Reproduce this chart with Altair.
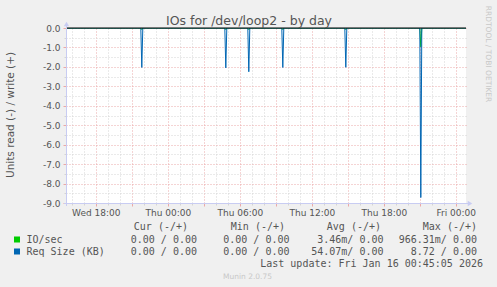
import altair as alt
import pandas as pd

# ---------------- data ----------------
title_text = "IOs for /dev/loop2 - by day"
y_title = "Units read (-) / write (+)"
side_text = "RRDTOOL / TOBI OETIKER"
footer_text = "Munin 2.0.75"
last_update = "Last update: Fri Jan 16 00:45:05 2026"

window = ["2026-01-14 15:31", "2026-01-16 00:51"]
ref_midnight = "2026-01-15 00:00"
step_minutes = 5

spike_times = ["2026-01-14 21:50", "2026-01-15 04:50", "2026-01-15 06:45",
               "2026-01-15 09:35", "2026-01-15 14:50", "2026-01-15 21:05"]
req_size_read = [-2.03, -2.05, -2.25, -2.03, -2.02, -8.72]
io_sec_read = [-0.08, -0.08, -0.08, -0.08, -0.08, -0.97]

x_tick_hours = [-6, 0, 6, 12, 18, 24]
x_tick_labels = ["Wed 18:00", "Thu 00:00", "Thu 06:00", "Thu 12:00", "Thu 18:00", "Fri 00:00"]

legend_series = ["IO/sec", "Req Size (KB)"]
legend_colors = ["#00cc00", "#0066b3"]
legend_headers = ["Cur (-/+)", "Min (-/+)", "Avg (-/+)", "Max (-/+)"]
legend_cur = ["0.00 / 0.00", "0.00 / 0.00"]
legend_min = ["0.00 / 0.00", "0.00 / 0.00"]
legend_avg = ["3.46m/ 0.00", "54.07m/ 0.00"]
legend_max = ["966.31m/ 0.00", "8.72 / 0.00"]

# ---------------- layout ----------------
PAD_L, PAD_T, PAD_R, PAD_B = 66, 28, 31, 84
W, H = 400, 175
FONT = "DejaVu Sans"
MONO = "DejaVu Sans Mono"
TXT = "#555555"
AXIS_C = "#c8ccf2"
MINOR_C = "#d4d4d4"
MAJOR_C = "#eba8a8"


def px(x):
    return x - PAD_L


def py(y):
    return y - PAD_T


ref = pd.Timestamp(ref_midnight)


def hours(ts):
    return (pd.Timestamp(ts) - ref) / pd.Timedelta(hours=1)


x0, x1 = hours(window[0]), hours(window[1])
step_h = step_minutes / 60.0


def series(values):
    rows = [(x0, 0.0)]
    for t, v in zip(spike_times, values):
        h = hours(t)
        rows += [(h - step_h, 0.0), (h, v), (h + step_h, 0.0)]
    rows.append((x1, 0.0))
    return pd.DataFrame(rows, columns=["h", "v"])


xs = alt.Scale(domain=[x0, x1], nice=False, zero=False)
ys = alt.Scale(domain=[-9, 0], nice=False, zero=False)

x_minor = [h for h in range(-8, 25) if h % 3 != 0]
x_major = list(range(-6, 25, 3))
y_minor = [i + 0.5 for i in range(-9, 0)]
y_major = list(range(-9, 1))

grid_dash = [1, 2]

green = alt.Chart(series(io_sec_read)).mark_line(
    color=legend_colors[0], strokeWidth=1, clip=True
).encode(
    x=alt.X("h:Q", scale=xs, axis=alt.Axis(
        orient="bottom", values=x_minor, grid=True, gridColor=MINOR_C, gridDash=grid_dash,
        labels=False, ticks=True, tickColor=MINOR_C, tickSize=2, domain=False, title=None)),
    y=alt.Y("v:Q", scale=ys, axis=alt.Axis(
        orient="left", values=y_minor, grid=True, gridColor=MINOR_C, gridDash=grid_dash,
        labels=False, ticks=True, tickColor=MINOR_C, tickSize=2, domain=False, title=None)),
)

blue = alt.Chart(series(req_size_read)).mark_line(
    color=legend_colors[1], strokeWidth=1, clip=True
).encode(
    x=alt.X("h:Q", scale=xs, axis=alt.Axis(
        orient="bottom", values=x_major, grid=True, gridColor=MAJOR_C, gridDash=grid_dash,
        labels=False, ticks=True, tickColor=MAJOR_C, tickSize=3, domain=False, title=None)),
    y=alt.Y("v:Q", scale=ys, axis=alt.Axis(
        orient="left", values=y_major, grid=True, gridColor=MAJOR_C, gridDash=grid_dash,
        labels=False, ticks=True, tickColor=MAJOR_C, tickSize=3, domain=False, title=None)),
)

x_label_expr = "{}[indexof({}, datum.value)]".format(
    "[" + ",".join("'%s'" % s for s in x_tick_labels) + "]",
    "[" + ",".join(str(v) for v in x_tick_hours) + "]")

zero_df = pd.DataFrame({"h": [x0, x1], "v": [0.0, 0.0]})
zero = alt.Chart(zero_df).mark_line(color="#000000", strokeWidth=1).encode(
    x=alt.X("h:Q", scale=xs, axis=alt.Axis(
        orient="bottom", values=x_tick_hours, labelExpr=x_label_expr, grid=False, ticks=False,
        domain=False, labelFont=FONT, labelFontSize=9, labelColor=TXT, labelPadding=5,
        title=None)),
    y=alt.Y("v:Q", scale=ys, axis=alt.Axis(
        orient="left", values=y_major,
        labelExpr="(datum.value < 0 ? '-' : '') + format(abs(datum.value), '.1f')",
        grid=False, ticks=False, domain=False, labelFont=FONT, labelFontSize=9,
        labelColor=TXT, labelPadding=6, title=None)),
)

deco_df = pd.DataFrame({"k": [0]})
y_axis_line = alt.Chart(deco_df).mark_rule(color=AXIS_C, strokeWidth=1).encode(
    x=alt.value(0.5), y=alt.value(-5), y2=alt.value(H + 3))
x_axis_line = alt.Chart(deco_df).mark_rule(color=AXIS_C, strokeWidth=1).encode(
    x=alt.value(-2), x2=alt.value(W + 4), y=alt.value(H + 0.5))
y_arrow = alt.Chart(deco_df).mark_point(shape="triangle-up", filled=True, color=AXIS_C,
                                        size=28, opacity=1).encode(
    x=alt.value(0.5), y=alt.value(-4))
x_arrow = alt.Chart(deco_df).mark_point(shape="triangle-right", filled=True, color=AXIS_C,
                                        size=28, opacity=1).encode(
    x=alt.value(W + 4), y=alt.value(H + 0.5))


def text(t, x, y, size, font=FONT, color=TXT, align="left", baseline="alphabetic", angle=0):
    kw = dict(font=font, fontSize=size, color=color, align=align, baseline=baseline)
    if angle:
        kw["angle"] = angle
    return alt.Chart(pd.DataFrame({"t": [t]})).mark_text(**kw).encode(
        text="t:N", x=alt.value(px(x)), y=alt.value(py(y)))


texts = [
    text(title_text, 249, 24.5, 12.5, align="center"),
    text(y_title, 11, 115, 10.5, align="center", baseline="middle", angle=270),
    text(side_text, 488, 54, 7.5, color="#c8c8c8", align="center", baseline="middle", angle=90),
    text(footer_text, 247.5, 279, 7.5, color="#c8c8c8", align="center"),
    text(last_update, 483, 266.5, 10, font=MONO, align="right"),
]

header_right = [188, 285, 381, 477]
value_right = [197, 289.5, 383.5, 477]
row_base = [242.5, 254.5]
for hdr, xr in zip(legend_headers, header_right):
    texts.append(text(hdr, xr, 229.5, 10, font=MONO, align="right"))
for r in range(2):
    texts.append(text(legend_series[r], 26.5, row_base[r], 10, font=MONO))
    for col, xr in zip([legend_cur, legend_min, legend_avg, legend_max], value_right):
        texts.append(text(col[r], xr, row_base[r], 10, font=MONO, align="right"))

squares = []
for r in range(2):
    squares.append(alt.Chart(deco_df).mark_rect(color=legend_colors[r]).encode(
        x=alt.value(px(14)), x2=alt.value(px(20)),
        y=alt.value(py(row_base[r] - 6)), y2=alt.value(py(row_base[r]))))

chart = alt.layer(
    green, blue, zero, y_axis_line, x_axis_line, y_arrow, x_arrow, *squares, *texts
).resolve_axis(x="independent", y="independent").properties(
    width=W, height=H,
    background="#f0f0f0",
    padding={"left": PAD_L, "top": PAD_T, "right": PAD_R, "bottom": PAD_B},
    autosize=alt.AutoSizeParams(type="none"),
).configure_view(fill="#ffffff", stroke=None)

chart.save("out.html", embed_options={"renderer": "svg", "actions": False})
